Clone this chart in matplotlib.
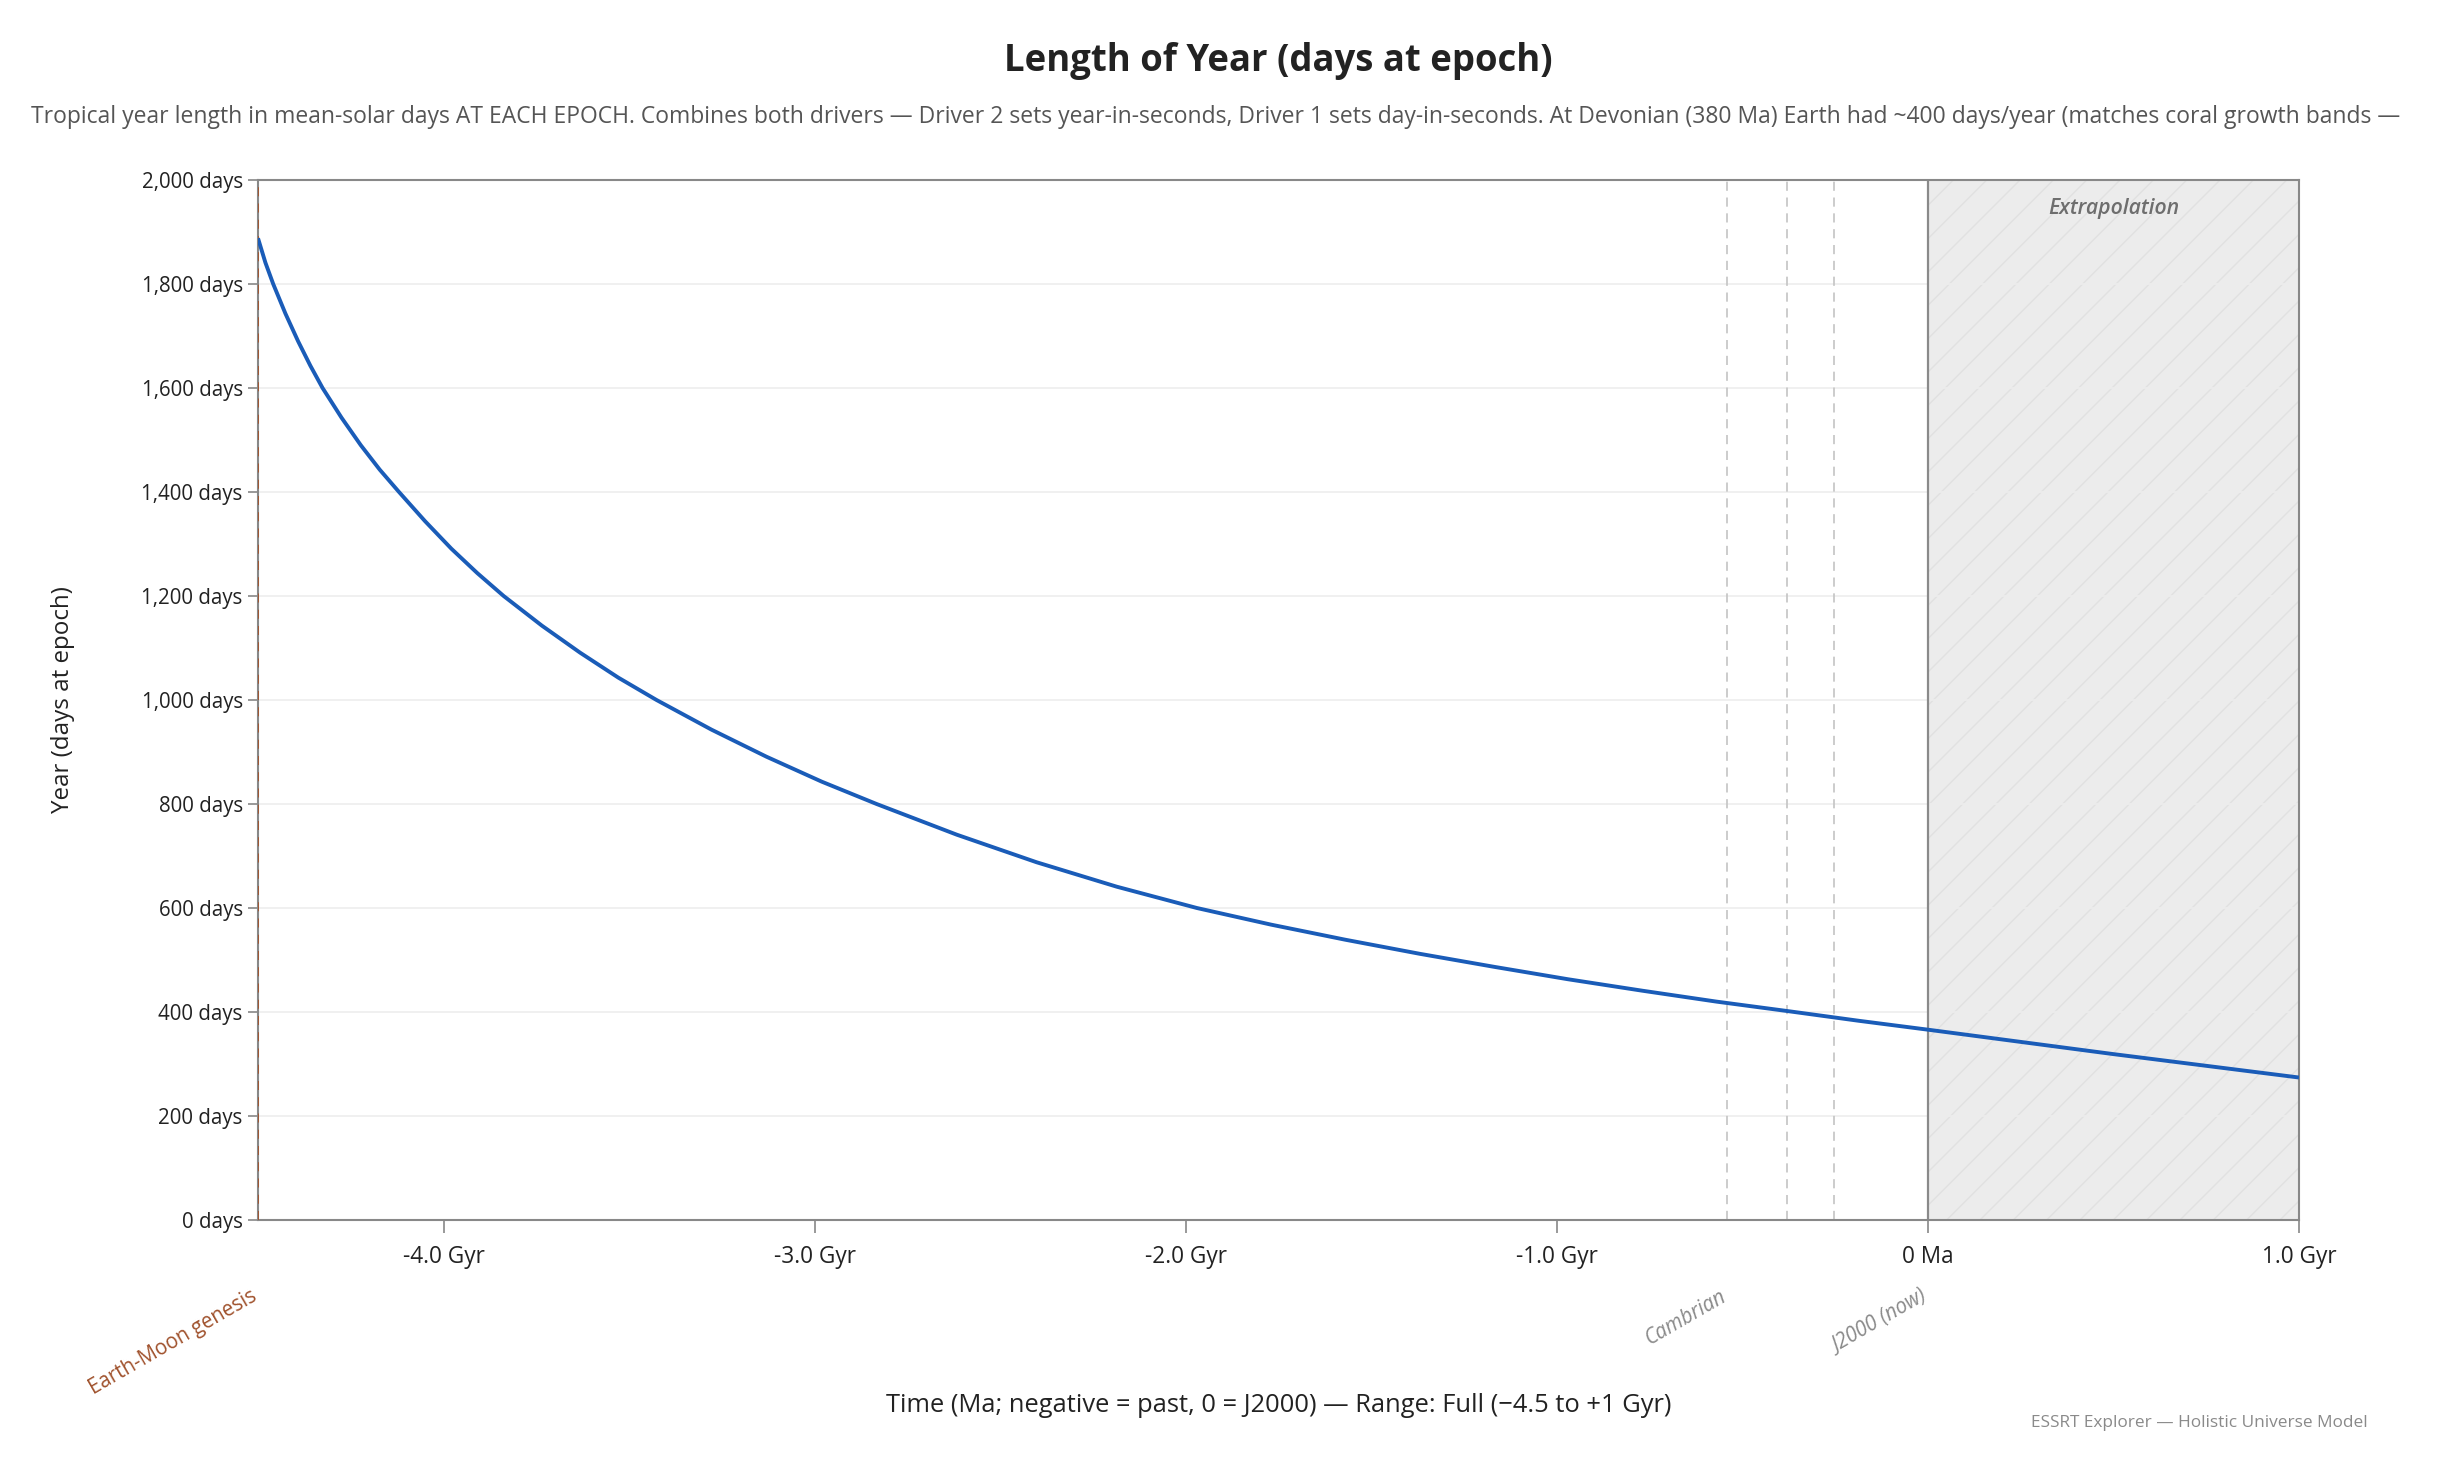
import matplotlib
matplotlib.use("Agg")
import matplotlib.pyplot as plt
from matplotlib.ticker import FuncFormatter, FixedLocator

plt.rcParams['font.family'] = ['Open Sans', 'DejaVu Sans']
plt.rcParams['hatch.linewidth'] = 1.0

# ---- data ----
time_ma = [-4500, -4480, -4459, -4426, -4392, -4359, -4326, -4275, -4223,
           -4172, -4120, -4050, -3979, -3909, -3838, -3735, -3632, -3529,
           -3426, -3278, -3130, -2981, -2833, -2617, -2402, -2186, -1970,
           -1770, -1570, -1370, -1170, -970, -770, -570, -370, -185, 0,
           500, 1000]
year_days = [1888, 1841, 1800, 1743, 1690, 1643, 1600, 1543, 1490,
             1443, 1400, 1344, 1291, 1244, 1200, 1143, 1091, 1043,
             1000, 943, 891, 843, 800, 741, 688, 641, 600,
             568, 539, 512, 487, 463, 441, 420, 401, 383, 366,
             319, 274]

genesis_ma = -4500
genesis_label = "Earth-Moon genesis"
event_ma = [-541, -380, -252]
labeled_events = {-541: "Cambrian", 0: "J2000 (now)"}
extrap_range = (0, 1000)

x_ticks = [-4000, -3000, -2000, -1000, 0, 1000]
y_ticks = [0, 200, 400, 600, 800, 1000, 1200, 1400, 1600, 1800, 2000]

title = "Length of Year (days at epoch)"
subtitle = ("Tropical year length in mean-solar days AT EACH EPOCH. Combines both drivers \u2014 "
            "Driver 2 sets year-in-seconds, Driver 1 sets day-in-seconds. At Devonian (380 Ma) "
            "Earth had ~400 days/year (matches coral growth bands \u2014")
xlabel = "Time (Ma; negative = past, 0 = J2000) \u2014 Range: Full (\u22124.5 to +1 Gyr)"
ylabel = "Year (days at epoch)"
footer = "ESSRT Explorer \u2014 Holistic Universe Model"

# ---- figure ----
W, H = 2452, 1470
fig = plt.figure(figsize=(W / 100, H / 100), dpi=100)
ax = fig.add_axes([258 / W, 1 - 1220 / H, (2299 - 258) / W, (1220 - 180) / H])

ax.set_xlim(-4500, 1000)
ax.set_ylim(0, 2000)

# extrapolation region
ax.axvspan(*extrap_range, facecolor='#ececec', edgecolor='#e1e1e1', hatch='/',
           linewidth=0, zorder=0.2)
ax.axvline(extrap_range[0], color='#8a8a8a', lw=1.6, zorder=1.5)
ax.text((extrap_range[0] + extrap_range[1]) / 2, 0.973, "Extrapolation",
        transform=ax.get_xaxis_transform(), ha='center', va='center',
        fontsize=15.3, style='italic', fontweight='semibold', color='#6e6e6e')

# event lines
ax.axvline(genesis_ma, color='#a0522d', lw=1.3, dashes=(5, 4), zorder=3)
for m in event_ma:
    ax.axvline(m, color='#c4c4c4', lw=1.2, dashes=(5.5, 4), zorder=1.2)

# grid
ax.set_axisbelow(True)
ax.yaxis.grid(True, color='#ededed', lw=1.2)
ax.xaxis.grid(False)

# main curve
ax.plot(time_ma, year_days, color='#1a5cb8', lw=2.8, zorder=4,
        solid_capstyle='butt', solid_joinstyle='round')

# ticks
ax.xaxis.set_major_locator(FixedLocator(x_ticks))
ax.yaxis.set_major_locator(FixedLocator(y_ticks))
ax.xaxis.set_major_formatter(FuncFormatter(
    lambda v, p: "0 Ma" if v == 0 else f"{v / 1000:.1f} Gyr"))
ax.yaxis.set_major_formatter(FuncFormatter(lambda v, p: f"{v:,.0f} days"))
ax.tick_params(axis='x', length=9, width=1.2, color='#888888', labelsize=16.3,
               labelcolor='#222222', pad=9)
ax.tick_params(axis='y', length=7, width=1.2, color='#888888', labelsize=14.8,
               labelcolor='#222222', pad=4)
for s in ax.spines.values():
    s.set_color('#888888')
    s.set_linewidth(1.5)

# event labels below the axis
trans = ax.get_xaxis_transform()
ax.annotate(genesis_label, xy=(genesis_ma, 0), xycoords=trans,
            xytext=(0, -80), textcoords='offset pixels', ha='right', va='baseline',
            rotation=30, rotation_mode='anchor', fontsize=14.8, color='#a0522d',
            annotation_clip=False)
for m, lab in labeled_events.items():
    ax.annotate(lab, xy=(m, 0), xycoords=trans,
                xytext=(0, -80), textcoords='offset pixels', ha='right', va='baseline',
                rotation=30, rotation_mode='anchor', fontsize=14.8, color='#8a8a8a',
                style='italic', annotation_clip=False)

# texts
fig.text((258 + 2299) / 2 / W, 1 - 61 / H, title, ha='center', va='center',
         fontsize=26.3, fontweight='bold', color='#222222')
fig.text(31 / W, 1 - 117 / H, subtitle, ha='left', va='center',
         fontsize=16.5, color='#555555')
fig.text((258 + 2299) / 2 / W, 1 - 1405 / H, xlabel, ha='center', va='center',
         fontsize=18.4, color='#222222')
fig.text(63 / W, 1 - 700 / H, ylabel, ha='center', va='center', rotation=90,
         fontsize=17.4, color='#222222')
fig.text(2368 / W, 1 - 1423 / H, footer, ha='right', va='center',
         fontsize=12.4, color='#8a8a8a')

fig.savefig("out.png", dpi=100, facecolor='white')
